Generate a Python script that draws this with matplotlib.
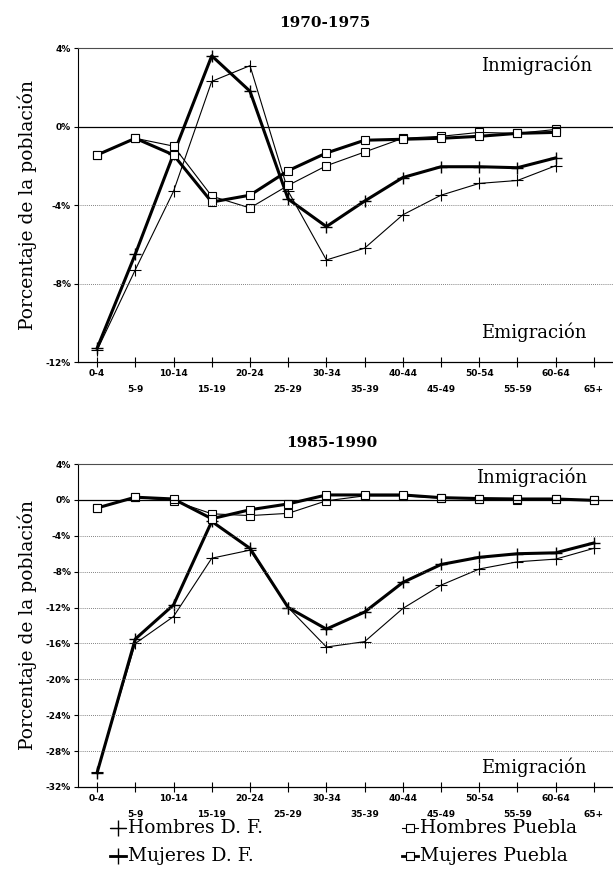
import numpy as np
import matplotlib.pyplot as plt

# age groups
grupos = ['0-4', '5-9', '10-14', '15-19', '20-24', '25-29', '30-34',
          '35-39', '40-44', '45-49', '50-54', '55-59', '60-64', '65+']

# 1970-1975 (no 65+ value)
h_df_70 = [-11.4, -7.3, -3.3, 2.3, 3.1, -3.3, -6.8, -6.2, -4.5, -3.5, -2.9, -2.75, -2.0]
m_df_70 = [-11.3, -6.5, -1.4, 3.6, 1.8, -3.7, -5.1, -3.8, -2.6, -2.05, -2.05, -2.1, -1.6]
h_pu_70 = [-1.45, -0.6, -1.0, -3.55, -4.15, -3.0, -2.0, -1.3, -0.6, -0.5, -0.3, -0.35, -0.15]
m_pu_70 = [-1.45, -0.6, -1.45, -3.85, -3.5, -2.25, -1.35, -0.7, -0.65, -0.6, -0.5, -0.35, -0.3]

# 1985-1990
h_df_85 = [-30.3, -16.0, -13.0, -6.5, -5.6, -12.0, -16.4, -15.8, -12.1, -9.5, -7.7, -6.9, -6.6, -5.4]
m_df_85 = [-30.4, -15.5, -11.7, -2.4, -5.4, -12.0, -14.4, -12.5, -9.2, -7.2, -6.4, -6.0, -5.9, -4.8]
h_pu_85 = [-0.9, 0.3, -0.1, -1.55, -1.75, -1.5, -0.1, 0.45, 0.45, 0.2, 0.1, 0.0, 0.1, -0.05]
m_pu_85 = [-0.9, 0.3, 0.1, -2.1, -1.1, -0.45, 0.55, 0.55, 0.55, 0.25, 0.15, 0.1, 0.1, -0.05]

serif = 'DejaVu Serif'

fig = plt.figure(figsize=(6.13, 8.83), dpi=100)
ax1 = fig.add_axes([78/613, 1-362/883, 535/613, 314/883])
ax2 = fig.add_axes([78/613, 1-787/883, 535/613, 323/883])


def panel(ax, hdf, mdf, hpu, mpu, yt, titulo, tx, ty):
    x = np.arange(len(grupos))
    n = len(hdf)
    ax.plot(x[:n], hdf, color='k', lw=0.8, marker='+', ms=8, mew=0.8)
    ax.plot(x[:n], mdf, color='k', lw=2.2, marker='+', ms=8, mew=1.0)
    ax.plot(x[:n], hpu, color='k', lw=0.8, marker='s', ms=6, mfc='white', mew=0.8)
    ax.plot(x[:n], mpu, color='k', lw=2.2, marker='s', ms=6, mfc='white', mew=0.8)
    ax.set_xlim(-0.5, 13.5)
    ax.set_ylim(yt[0], yt[-1])
    ax.set_yticks(yt)
    ax.set_yticklabels(['%d%%' % v for v in yt], fontsize=6.5, fontweight='bold')
    for v in yt[1:-1]:
        if v == 0:
            ax.axhline(0, color='k', lw=0.9)
        else:
            ax.axhline(v, color='0.35', lw=0.6, ls=(0, (1, 1.5)))
    ax.set_xticks(x)
    ax.set_xticklabels([])
    ax.tick_params(axis='x', direction='inout', length=7, width=0.8)
    ax.tick_params(axis='y', direction='out', length=3, width=0.8, pad=2)
    for i, g in enumerate(grupos):
        off = -8 if i % 2 == 0 else -19.5
        ax.annotate(g, (i, 0), xycoords=('data', 'axes fraction'),
                    xytext=(0, off), textcoords='offset points',
                    ha='center', va='center', fontsize=6.5, fontweight='bold')
    ax.spines['right'].set_visible(False)
    ax.spines['top'].set_color('0.3')
    ax.spines['top'].set_linestyle((0, (4, 1)))
    ax.spines['left'].set_linewidth(0.8)
    ax.spines['bottom'].set_linewidth(0.9)
    ax.set_ylabel('Porcentaje de la población', family=serif, fontsize=13.5, labelpad=6)
    fig.text(tx, ty, titulo, family=serif, fontsize=11, fontweight='bold',
             ha='center', va='center')


panel(ax1, h_df_70, m_df_70, h_pu_70, m_pu_70, [-12, -8, -4, 0, 4],
      '1970-1975', 325/613, 1-23/883)
panel(ax2, h_df_85, m_df_85, h_pu_85, m_pu_85,
      [-32, -28, -24, -20, -16, -12, -8, -4, 0, 4], '1985-1990', 332/613, 1-443/883)

fig.text(592/613, 1-65/883, 'Inmigración', family=serif, fontsize=13, ha='right', va='center')
fig.text(587/613, 1-332/883, 'Emigración', family=serif, fontsize=13, ha='right', va='center')
fig.text(587/613, 1-477/883, 'Inmigración', family=serif, fontsize=13, ha='right', va='center')
fig.text(587/613, 1-767/883, 'Emigración', family=serif, fontsize=13, ha='right', va='center')

# legend
leg = [('Hombres D. F.', 0.8, '+', 118, 828), ('Mujeres D. F.', 2.0, '+', 118, 856),
       ('Hombres Puebla', 0.8, 's', 410, 828), ('Mujeres Puebla', 2.0, 's', 410, 856)]
for txt, lw, mk, px, py in leg:
    xs = np.array([px - 8, px + 8]) / 613
    ys = np.array([1 - py/883] * 2)
    fig.add_artist(plt.Line2D(xs, ys, color='k', lw=lw, transform=fig.transFigure))
    if mk == '+':
        fig.add_artist(plt.Line2D([px/613], [1 - py/883], marker='+', ms=11, mew=1.0,
                                  color='k', transform=fig.transFigure))
    else:
        fig.add_artist(plt.Line2D([px/613], [1 - py/883], marker='s', ms=6, mfc='white',
                                  mew=0.8, color='k', transform=fig.transFigure))
    fig.text((px + 10)/613, 1 - py/883, txt, family=serif, fontsize=13.5, ha='left', va='center')

fig.savefig('out.png', dpi=100)
